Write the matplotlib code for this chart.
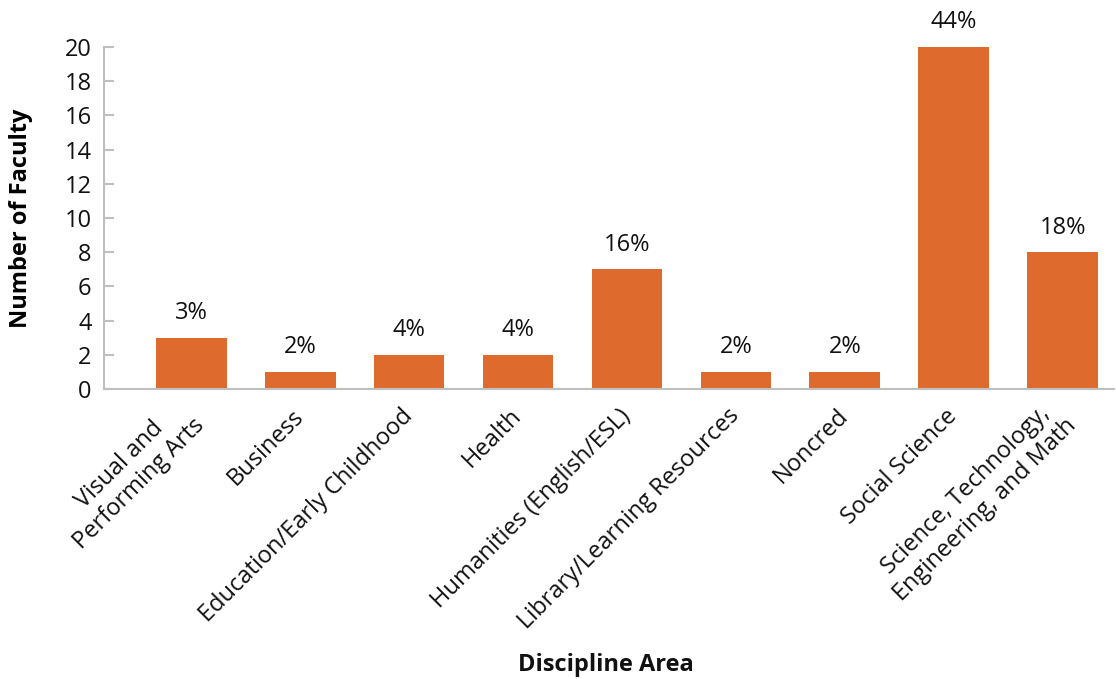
import matplotlib.pyplot as plt
import numpy as np

# Faculty counts by discipline area
disciplines = [
    "Visual and\nPerforming Arts",
    "Business",
    "Education/Early Childhood",
    "Health",
    "Humanities (English/ESL)",
    "Library/Learning Resources",
    "Noncred",
    "Social Science",
    "Science, Technology,\nEngineering, and Math",
]
faculty_counts = [3, 1, 2, 2, 7, 1, 1, 20, 8]
share_labels = ["3%", "2%", "4%", "4%", "16%", "2%", "2%", "44%", "18%"]
y_ticks = list(range(0, 21, 2))

bar_color = "#DF6A2E"
axis_gray = "#BFBFBF"
text_color = "#111111"
fs = 17

plt.rcParams['font.family'] = ['Open Sans', 'DejaVu Sans']

fig = plt.figure(figsize=(11.16, 6.79), dpi=100)
ax = fig.add_axes([0.0932, 0.4271, 0.905, 0.5037])

x = np.arange(len(disciplines))
bars = ax.bar(x, faculty_counts, width=0.65, color=bar_color, zorder=2)

for bar, lbl in zip(bars, share_labels):
    ax.annotate(lbl, (bar.get_x() + bar.get_width() / 2, bar.get_height()),
                xytext=(0, 9), textcoords='offset points',
                ha='center', va='bottom', fontsize=fs, color=text_color,
                annotation_clip=False)

ax.set_xlim(-0.8, 8.47)
ax.set_ylim(0, 20)
ax.set_yticks(y_ticks)
ax.set_yticklabels([str(t) for t in y_ticks], fontsize=fs, color=text_color)

ax.set_xticks(x)
ax.set_xticklabels(disciplines, rotation=45, ha='right', va='center',
                   rotation_mode='anchor', multialignment='center',
                   fontsize=fs, color=text_color)

# light gray spines, short inner ticks on y only
for side in ['top', 'right']:
    ax.spines[side].set_visible(False)
for side in ['left', 'bottom']:
    ax.spines[side].set_color(axis_gray)
    ax.spines[side].set_linewidth(1.5)
ax.tick_params(axis='y', direction='in', length=7, width=1.5,
               color=axis_gray, pad=9)
ax.tick_params(axis='x', length=0, pad=17)

ax.set_ylabel("Number of Faculty", fontsize=fs, fontweight='bold')
ax.yaxis.set_label_coords(-0.07, 0.5)
fig.text(0.543, 0.021, "Discipline Area", fontsize=fs, fontweight='bold',
         ha='center', va='center', color=text_color)

fig.savefig("out.png", dpi=100)
